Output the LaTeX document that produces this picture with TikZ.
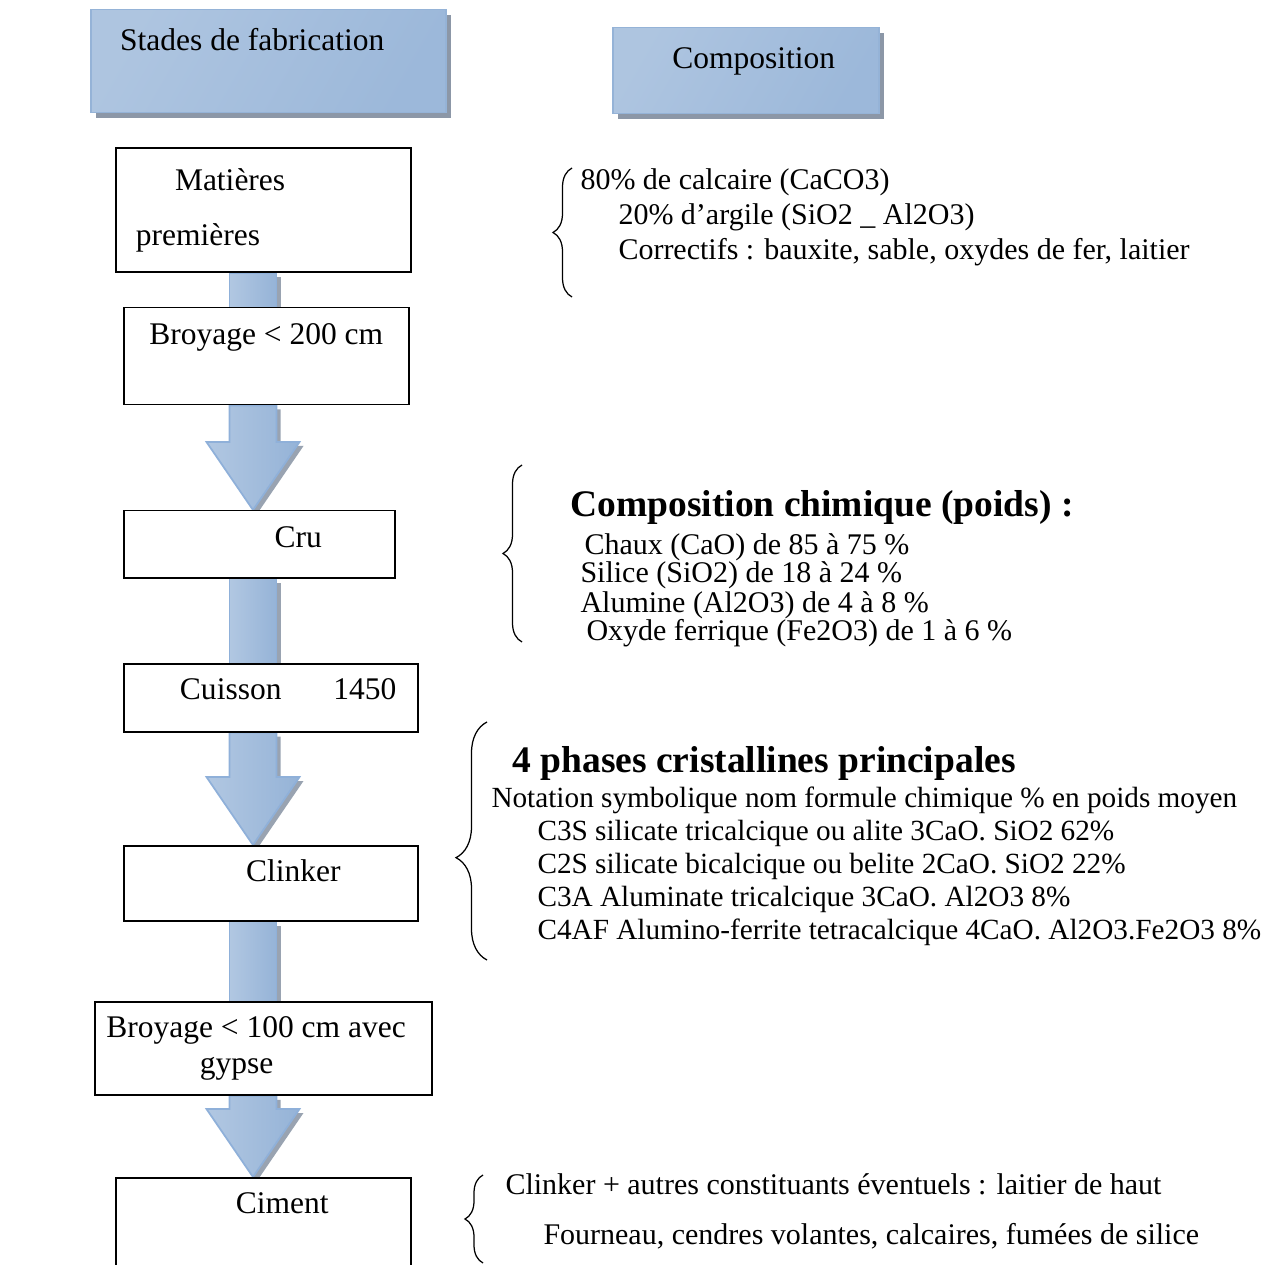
\documentclass[tikz,border=0pt]{standalone}
\usepackage{fontspec}
\setmainfont{Liberation Serif}
\usetikzlibrary{calc,shadows,backgrounds,decorations.pathreplacing}
\definecolor{hdDark}{HTML}{95B3D7}
\definecolor{hdLight}{HTML}{DCE6F2}
\definecolor{arrowLine}{HTML}{8FB0D9}
\definecolor{shadowGray}{HTML}{7F8C9D}

% fleche bloc : depart, pointe
\newcommand{\flowarrow}[2]{%
  \path[flowarrow] let \p1=(#1), \p2=(#2) in
    (\x1-9.4pt,\y1) -- (\x1-9.4pt,\y2+27.2pt) -- (\x1-18.6pt,\y2+27.2pt) -- (\x1,\y2)
    -- (\x1+18.6pt,\y2+27.2pt) -- (\x1+9.4pt,\y2+27.2pt) -- (\x1+9.4pt,\y1) -- cycle;}
% tige seule (la pointe passe sous la boite suivante)
\newcommand{\flowshaft}[2]{%
  \path[flowarrow] let \p1=(#1), \p2=(#2) in
    (\x1-9.4pt,\y1) rectangle (\x1+9.4pt,\y2-6pt);}

\begin{document}
\begin{tikzpicture}[x=0.4pt, y=-0.4pt,
    header/.style={draw=hdDark, line width=0.6pt, anchor=north west,
                   left color=hdDark!65!hdLight, middle color=hdLight, right color=hdDark!90!hdLight,
                   shading angle=60, inner ysep=0pt,
                   drop shadow={shadow xshift=2pt, shadow yshift=-2pt, fill=shadowGray, opacity=0.9},
                   font=\fontsize{12.6}{15}\selectfont},
    stage/.style={draw, fill=white, semithick, inner ysep=0pt, inner xsep=2pt,
                  font=\fontsize{12.6}{14.4}\selectfont},
    desc/.style={anchor=base west, inner sep=0pt, font=\fontsize{12}{14.4}\selectfont},
    descsmall/.style={desc, font=\fontsize{11.7}{14}\selectfont},
    desctitle/.style={desc, font=\fontsize{15}{18}\selectfont\bfseries},
    curly/.style={decorate, decoration={brace, amplitude=#1}, line width=0.5pt},
    flowarrow/.style={draw=arrowLine, line width=0.7pt,
                      left color=hdDark!60!hdLight, middle color=hdLight, right color=hdDark,
                      drop shadow={shadow xshift=1.6pt, shadow yshift=-1.6pt, fill=shadowGray, opacity=0.8}}
  ]
  \useasboundingbox (0,0) rectangle (1268,1265);
  \clip (0,0) rectangle (1268,1265);

  % en-tetes
  \node[header, minimum width=142pt, text height=16.4pt, text depth=24.8pt] (stades) at (90,9)
    {Stades de fabrication\hspace*{12.8pt}};
  \node[header, minimum width=106.4pt, text height=16.4pt, text depth=18pt] (compo) at (612,27)
    {\hspace*{6.4pt}Composition};

  % etapes de fabrication
  \node[stage, minimum width=118pt, minimum height=49.6pt, text width=102pt, inner xsep=8pt,
        align=left] (matieres) at (263.5,210) {\hspace*{15.6pt}Matières\\[7.6pt]premières};
  \node[stage, anchor=north west, minimum width=114pt, text height=14.8pt, text depth=24pt]
    (broyA) at (123,307) {Broyage < 200 cm};
  \node[stage, anchor=north west, minimum width=108.4pt, text height=14.8pt, text depth=12pt]
    (cru) at (123,510) {\hspace*{31.2pt}Cru};
  \node[stage, anchor=north west, minimum width=117.6pt, text height=14.4pt, text depth=12.8pt]
    (cuisson) at (123,663) {\hspace*{14pt}Cuisson\hspace{20.8pt}1450};
  \node[stage, anchor=north west, minimum width=117.6pt, text height=14.4pt, text depth=15.6pt]
    (clinker) at (123,845) {\hspace*{18pt}Clinker};
  \node[stage, minimum width=134.8pt, minimum height=37.2pt, align=center]
    (broyB) at (263.5,1048.5) {Broyage < 100 cm avec\hspace*{6pt}\\gypse\hspace*{21.6pt}};
  \node[stage, anchor=north west, minimum width=118pt, text height=14.4pt, text depth=30.8pt]
    (ciment) at (115,1177) {\hspace*{15.2pt}Ciment};

  % fleches
  \begin{scope}[on background layer]
    \coordinate (axis) at (253,0);
    \flowshaft{matieres.south -| axis}{broyA.north -| axis}
    \flowarrow{broyA.south -| axis}{cru.north -| axis}
    \flowshaft{cru.south -| axis}{cuisson.north -| axis}
    \flowarrow{cuisson.south -| axis}{clinker.north -| axis}
    \flowshaft{clinker.south -| axis}{broyB.north -| axis}
    \flowarrow{broyB.south -| axis}{ciment.north -| axis}
  \end{scope}

  % composition
  \node[desc] (calcaire) at (580,190) {80\% de calcaire (CaCO3)};
  \node[desc] (argile) at (618,225) {20\% d’argile (SiO2 \_ Al2O3)};
  \node[desc] (correctifs) at (618,260) {Correctifs : bauxite, sable, oxydes de fer, laitier};
  \draw[curly=7.6pt] (572,297) -- (572,168);

  \node[desctitle] (chimTitre) at (570,517) {Composition chimique (poids) :};
  \node[desc] (chaux) at (584,554) {Chaux (CaO) de 85 à 75 \%};
  \node[desc] (silice) at (580,583) {Silice (SiO2) de 18 à 24 \%};
  \node[desc] (alumine) at (580,612) {Alumine (Al2O3) de 4 à 8 \%};
  \node[desc] (oxyde) at (586,641) {Oxyde ferrique (Fe2O3) de 1 à 6 \%};
  \draw[curly=7.6pt] (522,642) -- (522,465);

  \node[desctitle] (phTitre) at (512,772) {4 phases cristallines principales};
  \node[descsmall] (notation) at (491,807) {Notation symbolique nom formule chimique \% en poids moyen};
  \node[descsmall] (alite) at (537,840) {C3S silicate tricalcique ou alite 3CaO. SiO2 62\%};
  \node[descsmall] (belite) at (537,873) {C2S silicate bicalcique ou belite 2CaO. SiO2 22\%};
  \node[descsmall] (aluminate) at (537,906) {C3A Aluminate tricalcique 3CaO. Al2O3 8\%};
  \node[descsmall] (ferrite) at (537,939) {C4AF Alumino-ferrite tetracalcique 4CaO. Al2O3.Fe2O3 8\%};
  \draw[curly=12.4pt, decoration={aspect=0.43}] (487,960) -- (487,722);

  \node[desc] (ajouts) at (505,1194) {Clinker + autres constituants éventuels : laitier de haut};
  \node[desc] (fourneau) at (543,1244) {Fourneau, cendres volantes, calcaires, fumées de silice};
  \draw[curly=7.2pt] (483,1263) -- (483,1175);
\end{tikzpicture}
\end{document}
